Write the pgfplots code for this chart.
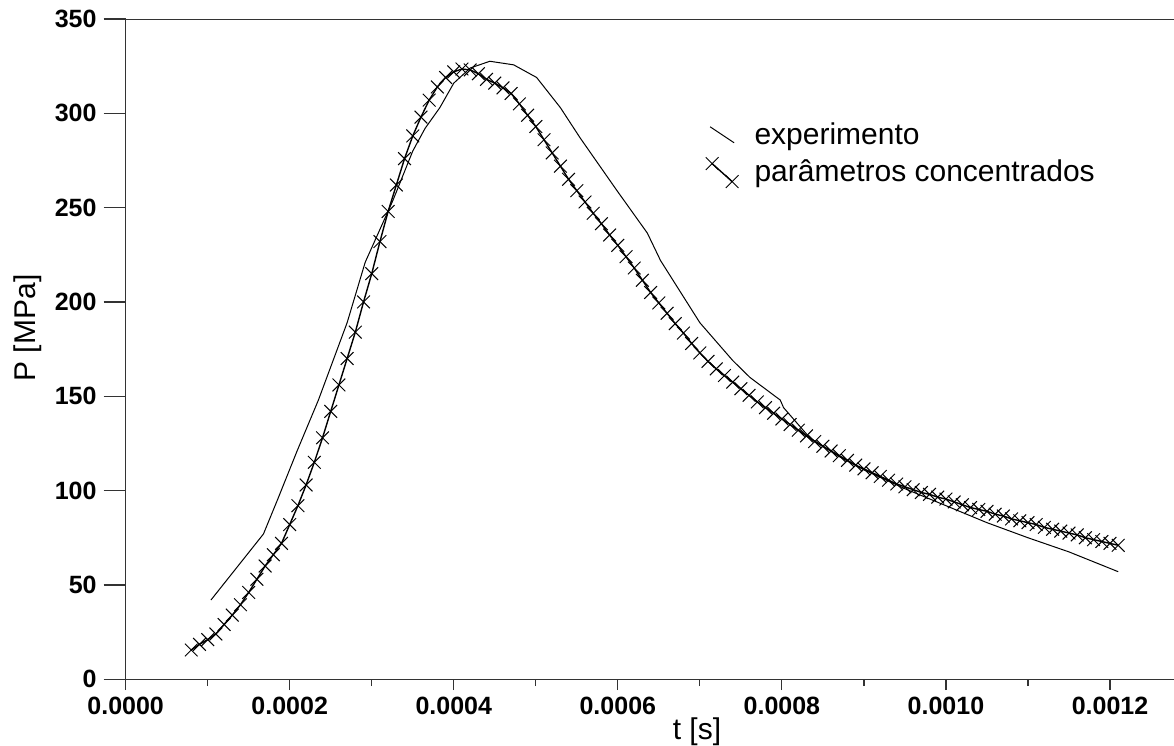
\documentclass[border=0pt]{standalone}
\usepackage{fontspec}
\setmainfont{Liberation Sans}
\usepackage{pgfplots}
\usepackage{pgfplotstable}
\pgfplotsset{compat=1.18}

\pgfplotsset{
  expleg/.style={legend image code/.code={\draw[##1] (0pt,4pt) -- (12pt,-4pt);}},
  modleg/.style={legend image code/.code={\draw[##1] plot coordinates {(1pt,4pt) (11pt,-5pt)};}},
}

% experiment (measured pressure)
\pgfplotstableread{
t P
0.000104 42
0.000168 77
0.000185 95
0.000209 121
0.000235 148
0.000270 189
0.000292 221
0.000326 254
0.000350 280
0.000365 292
0.000383 303
0.000400 316
0.000420 324
0.000444 327.6
0.000473 325.7
0.000501 319
0.000530 303
0.000554 287
0.000599 259
0.000636 236.5
0.000652 222
0.000700 189
0.000740 169
0.000761 160
0.000798 148
0.000802 144
0.000834 128
0.000870 118
0.000900 111
0.000950 101
0.001000 92
0.001050 83
0.001100 75
0.001150 67.5
0.001210 57
}\exper

% lumped-parameter model
\pgfplotstableread{
t P
0.00008 15.5
0.00009 18.5
0.00010 21
0.00011 24
0.00012 29
0.00013 34
0.00014 39.5
0.00015 46
0.00016 53
0.00017 60
0.00018 66
0.00019 72
0.00020 82
0.00021 92
0.00022 103
0.00023 115
0.00024 128
0.00025 142
0.00026 156
0.00027 170
0.00028 184
0.00029 200
0.00030 215
0.00031 232
0.00032 248
0.00033 262
0.00034 276
0.00035 288
0.00036 298
0.00037 307
0.00038 314
0.00039 319
0.00040 322
0.00041 323.5
0.00042 323
0.00043 321
0.00044 318
0.00045 316
0.00046 313.5
0.00047 310.5
0.00048 305
0.00049 299
0.00050 293
0.00051 286
0.00052 279
0.00053 272
0.00054 265
0.00055 259
0.00056 253
0.00057 247
0.00058 241.5
0.00059 235.5
0.00060 230
0.00061 224
0.00062 218
0.00063 211.5
0.00064 205
0.00065 199.5
0.00066 194
0.00067 188.5
0.00068 183.5
0.00069 178
0.00070 173
0.00071 168.5
0.00072 164.5
0.00073 161
0.00074 157.5
0.00075 154
0.00076 150.5
0.00077 147
0.00078 144
0.00079 141
0.00080 138
0.00081 135
0.00082 132
0.00083 129
0.00084 126
0.00085 123.5
0.00086 121
0.00087 118.5
0.00088 116
0.00089 113.5
0.00090 111.5
0.00091 109.5
0.00092 107.5
0.00093 105.5
0.00094 103.5
0.00095 102
0.00096 100.5
0.00097 99
0.00098 98
0.00099 96.5
0.00100 95.5
0.00101 94
0.00102 92.5
0.00103 91
0.00104 90
0.00105 89
0.00106 87.5
0.00107 86.5
0.00108 85
0.00109 84
0.00110 83
0.00111 82
0.00112 80.5
0.00113 79.5
0.00114 78.5
0.00115 77.5
0.00116 76.5
0.00117 75
0.00118 74
0.00119 73
0.00120 72
0.00121 71
}\model

\begin{document}
\begin{tikzpicture}
\pgfplotsset{
  base/.style={
    scale only axis, width=524pt, height=330pt,
    xmin=0, xmax=0.001278, ymin=0, ymax=350,
    axis line style={black!80, line width=0.6pt},
    tick style={black!80, line width=0.6pt},
    tick align=outside,
    /pgf/number format/assume math mode=true,
    tick label style={font=\fontsize{12.5}{15}\selectfont\bfseries},
  },
}
\begin{axis}[base,
  axis x line*=bottom, axis y line*=left,
  xtick=\empty,
  ytick={0,50,100,150,200,250,300,350},
  major tick length=11pt,
  ylabel={P [MPa]},
  every axis y label/.style={at={(axis description cs:-0.0934,0.532)}, rotate=90, anchor=center, font=\fontsize{15}{18}\selectfont},
  legend cell align=left,
  legend style={draw=none, fill=none, at={(axis description cs:0.553,0.85)}, anchor=north west,
    font=\fontsize{15}{18}\selectfont, inner sep=0pt, row sep=2pt,
    /tikz/every odd column/.append style={column sep=6pt}},
]
\addplot[black, line width=0.5pt, mark=none, expleg]
  table[x=t, y=P] {\exper};
\addlegendentry{experimento}
\addplot[black, line width=0.7pt, mark=x, mark size=4.5pt, mark options={solid, line width=0.5pt}, modleg]
  table[x=t, y=P] {\model};
\addlegendentry{parâmetros concentrados}
\draw[black!80, line width=0.6pt] (rel axis cs:0,1) -- (rel axis cs:1,1);
\coordinate (sw) at (rel axis cs:0,0);
\coordinate (ne) at (rel axis cs:1,1);
\end{axis}
\begin{axis}[base,
  axis x line*=bottom, axis y line=none,
  xtick={0,0.0002,0.0004,0.0006,0.0008,0.0010,0.0012},
  xticklabels={0.0000,0.0002,0.0004,0.0006,0.0008,0.0010,0.0012},
  scaled x ticks=false,
  minor xtick={0.0001,0.0003,0.0005,0.0007,0.0009,0.0011},
  major tick length=5.5pt, minor tick length=3.5pt,
  xlabel={t [s]},
  every axis x label/.style={at={(axis description cs:0.545,-0.080)}, anchor=center, font=\fontsize{15}{18}\selectfont},
]
\end{axis}
\pgfresetboundingbox
\path ([shift={(-62.8pt,-33.3pt)}]sw) rectangle ([shift={(0pt,9.5pt)}]ne);
\end{tikzpicture}
\end{document}
